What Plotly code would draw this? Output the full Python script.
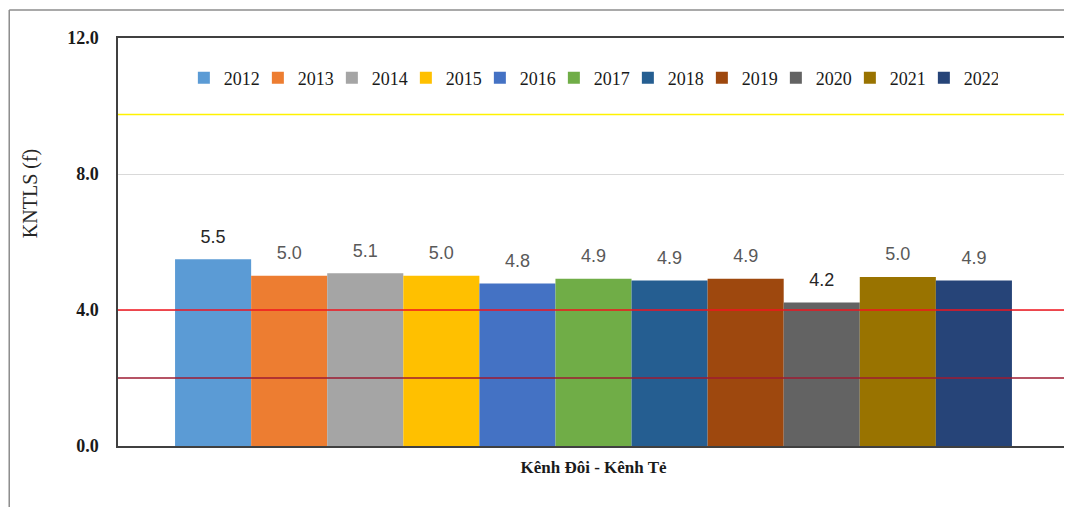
import plotly.graph_objects as go

category = ["Kênh Đôi - Kênh Tẻ"]
years = ["2012", "2013", "2014", "2015", "2016", "2017", "2018", "2019", "2020", "2021", "2022"]
values = [5.49, 5.01, 5.08, 5.01, 4.78, 4.92, 4.87, 4.92, 4.22, 4.97, 4.87]
colors = ["#5B9BD5", "#ED7D31", "#A5A5A5", "#FFC000", "#4472C4", "#70AD47",
          "#255E91", "#9E480E", "#636363", "#997300", "#264478"]
label_colors = ["#262626", "#595959", "#595959", "#595959", "#595959", "#595959",
                "#595959", "#595959", "#262626", "#595959", "#595959"]
thresholds = [9.75, 4.0, 2.0]
threshold_colors = ["#FFF200", "#F0141E", "#9E1B32"]
y_ticks = [0, 4, 8, 12]

SERIF = "Liberation Serif"
SANS = "Liberation Sans"

fig = go.Figure()
for yr, v, c, lc in zip(years, values, colors, label_colors):
    fig.add_trace(go.Bar(
        x=category, y=[v], name=yr, marker=dict(color=c, line=dict(width=0)),
        texttemplate="<span style='font-size:18px'>%{y:.1f}</span><br>\u00a0",
        textposition="outside",
        textfont=dict(family=SANS, size=9, color=lc),
        cliponaxis=False,
        hoverinfo="skip",
    ))

# page has an 8px body margin; the plot area is placed to land at x 118-1071, y 38-446
W, H = 1064, 499
ML, MR, MT, MB = 110, 1, 30, 61
pw, ph = W - ML - MR, H - MT - MB

def px_x(x):
    return (x - 8 - ML) / pw

def px_y(y):
    return (H - MB - (y - 8)) / ph

shapes = []
for t, c in zip(thresholds, threshold_colors):
    shapes.append(dict(type="line", xref="paper", yref="y", x0=0, x1=1, y0=t, y1=t,
                       line=dict(color=c, width=1.6), layer="above"))
# outer frame (top and left)
shapes.append(dict(type="line", xref="paper", yref="paper", x0=px_x(9), x1=px_x(1072),
                   y0=px_y(10), y1=px_y(10), line=dict(color="#8c8c8c", width=1.5)))
shapes.append(dict(type="line", xref="paper", yref="paper", x0=px_x(9), x1=px_x(9),
                   y0=px_y(10), y1=px_y(507), line=dict(color="#8c8c8c", width=1.5)))

fig.update_layout(
    width=W, height=H,
    margin=dict(l=ML, r=MR, t=MT, b=MB, pad=0),
    paper_bgcolor="white", plot_bgcolor="white",
    barmode="group", bargap=0.12, bargroupgap=0,
    showlegend=True,
    legend=dict(orientation="h", x=px_x(184), xanchor="left", y=px_y(78), yanchor="middle",
                font=dict(family=SERIF, size=18, color="#1a1a1a"),
                entrywidth=29, entrywidthmode="pixels", bgcolor="rgba(0,0,0,0)",
                traceorder="normal"),
    shapes=shapes,
    annotations=[dict(text="KNTLS (f)", xref="paper", yref="paper", x=px_x(30), y=px_y(194),
                      xanchor="center", yanchor="middle",
                      textangle=-90, showarrow=False,
                      font=dict(family=SERIF, size=20, color="#262626"))],
)
fig.update_yaxes(range=[0, 12], tickvals=y_ticks, tickformat=".1f",
                 tickfont=dict(family=SERIF, size=18, color="#1a1a1a", weight="bold"),
                 showgrid=True, gridcolor="#d9d9d9", gridwidth=1, zeroline=False,
                 showline=True, linecolor="#404040", linewidth=1.5, mirror=True,
                 ticks="", ticklabelstandoff=14)
fig.update_xaxes(tickfont=dict(family=SERIF, size=17, color="#1a1a1a", weight="bold"),
                 showline=True, linecolor="#404040", linewidth=1.5, mirror=True,
                 ticks="", ticklabelstandoff=5)

fig.write_html("out.html")
